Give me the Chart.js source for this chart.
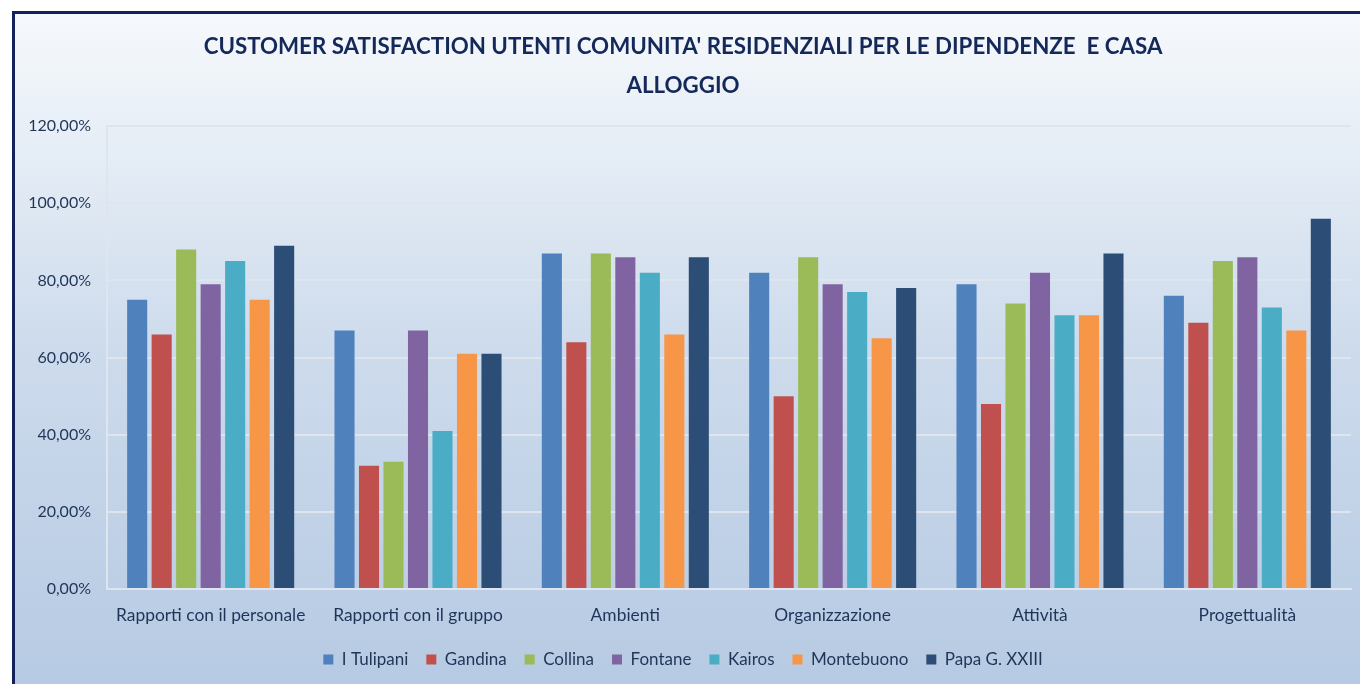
<!DOCTYPE html>
<html>
<head>
<meta charset="utf-8">
<script src="https://cdn.jsdelivr.net/npm/chart.js@4.4.0/dist/chart.umd.min.js"></script>
<style>
  html, body { margin: 0; padding: 0; background: #fff; overflow: hidden; }
  #frame {
    position: absolute; left: 12px; top: 11px;
    width: 1348px; height: 673px;
    border-top: 3px solid #14215a; border-left: 3px solid #14215a;
    box-sizing: border-box;
  }
  #wrap { position: absolute; left: 0; top: 0; width: 1345px; height: 670px; }
</style>
</head>
<body>
<div id="frame"><div id="wrap"><canvas id="chart"></canvas></div></div>
<script>
// categories and series
const categories = ['Rapporti con il personale', 'Rapporti con il gruppo', 'Ambienti', 'Organizzazione', 'Attività', 'Progettualità'];
const seriesNames = ['I Tulipani', 'Gandina', 'Collina', 'Fontane', 'Kairos', 'Montebuono', 'Papa G. XXIII'];
const seriesColors = ['#4f81bd', '#c0504d', '#9bbb59', '#8064a2', '#4bacc6', '#f79646', '#2c4d75'];

const tulipani   = [75, 67, 87, 82, 79, 76];
const gandina    = [66, 32, 64, 50, 48, 69];
const collina    = [88, 33, 87, 86, 74, 85];
const fontane    = [79, 67, 86, 79, 82, 86];
const kairos     = [85, 41, 82, 77, 71, 73];
const montebuono = [75, 61, 66, 65, 71, 67];
const papa       = [89, 61, 86, 78, 87, 96];
const seriesValues = [tulipani, gandina, collina, fontane, kairos, montebuono, papa];

const yTicks = [0, 20, 40, 60, 80, 100, 120];

const textColor = '#1f3558';

const bgPlugin = {
    id: 'bg',
    beforeDraw(chart) {
        const ctx = chart.ctx;
        const g = ctx.createLinearGradient(0, 0, 0, chart.height);
        g.addColorStop(0, '#f6f9fc');
        g.addColorStop(0.5, '#cddbec');
        g.addColorStop(1, '#b6cae3');
        ctx.save();
        ctx.fillStyle = g;
        ctx.fillRect(0, 0, chart.width, chart.height);
        ctx.restore();
    }
};

const ctx = document.getElementById('chart').getContext('2d');
new Chart(ctx, {
    type: 'bar',
    data: {
        labels: categories,
        datasets: seriesNames.map((name, i) => ({
            label: name,
            data: seriesValues[i],
            backgroundColor: seriesColors[i],
            borderWidth: 0,
            categoryPercentage: 0.827,
            barPercentage: 0.82
        }))
    },
    options: {
        responsive: true,
        maintainAspectRatio: false,
        animation: false,
        layout: { padding: { left: 0, right: 9, top: 0, bottom: 6 } },
        scales: {
            y: {
                min: 0, max: 120,
                afterBuildTicks(scale) { scale.ticks = yTicks.map(v => ({ value: v })); },
                afterFit(scale) { scale.width = 92; },
                ticks: {
                    padding: 16,
                    color: textColor,
                    font: { family: 'Lato', size: 16 },
                    callback: v => v.toFixed(2).replace('.', ',') + '%'
                },
                grid: { color: '#dfe5ee', lineWidth: 2, drawTicks: false },
                border: { display: true, color: '#dfe5ee', width: 2 }
            },
            x: {
                afterFit(scale) { scale.height -= 9; },
                ticks: { color: textColor, font: { family: 'Lato', size: 17.4 }, padding: 16 },
                grid: { display: false, drawTicks: false },
                border: { display: true, color: '#dfe5ee', width: 2 }
            }
        },
        plugins: {
            title: {
                display: true,
                text: ["CUSTOMER SATISFACTION UTENTI COMUNITA' RESIDENZIALI PER LE DIPENDENZE  E CASA", 'ALLOGGIO'],
                color: '#14285a',
                font: { family: 'Lato', size: 22.3, weight: 'bold', lineHeight: 1.75 },
                padding: { top: 13, bottom: 21 }
            },
            legend: {
                position: 'bottom',
                labels: {
                    boxWidth: 10, boxHeight: 10,
                    color: textColor,
                    font: { family: 'Lato', size: 17 },
                    padding: 18
                }
            },
            tooltip: { enabled: false }
        }
    },
    plugins: [bgPlugin]
});
</script>
</body>
</html>
